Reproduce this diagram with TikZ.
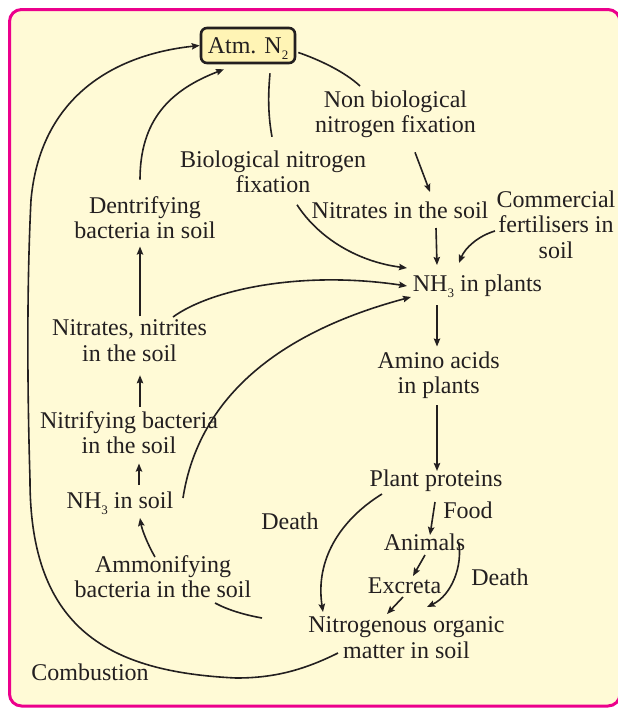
\documentclass[tikz,border=0pt]{standalone}
\usepackage{fontspec}
\setmainfont{Liberation Serif}
\usetikzlibrary{arrows.meta,calc}
\definecolor{ink}{HTML}{231F20}
\definecolor{framecol}{HTML}{EC008C}
\definecolor{cream}{HTML}{FFFAD6}
\definecolor{boxfill}{HTML}{FFF4B5}
\newcommand\lowsub[1]{\raisebox{-3pt}{\fontsize{6.5}{6.5}\selectfont #1}}
\begin{document}
\begin{tikzpicture}[x=0.5pt,y=-0.5pt,
  txt/.style={font=\fontsize{12}{12.9}\selectfont, text=ink, inner sep=0pt, align=center},
  conn/.style={draw=ink, line width=0.8pt},
  arr/.style={conn, -{Stealth[length=4pt,width=3.2pt,inset=0.6pt]}}]
\useasboundingbox (0,0) rectangle (617,708);
\draw[line width=1.5pt, draw=framecol, fill=cream, rounded corners=6pt] (9.5,9.5) rectangle (620,706);

% nodes
\node[txt, draw=ink, line width=1.3pt, fill=boxfill, rounded corners=3pt,
      minimum width=47pt, minimum height=17.5pt, text height=8.5pt, text depth=1pt] (atm) at (248,45.5) {Atm. N\lowsub{2}};
\node[txt] (nonbio) at (395.5,114.3) {Non biological\\nitrogen fixation};
\node[txt] (bio) at (273,171.8) {Biological nitrogen\\fixation};
\node[txt] (dentr) at (145,217.7) {Dentrifying\\bacteria in soil};
\node[txt, anchor=base] (nitsoil) at (400,218) {Nitrates in the soil};
\node[txt] (comm) at (556,224.6) {Commercial\\fertilisers in\\soil};
\node[txt, anchor=base] (nh3p) at (477.5,291) {NH\lowsub{3} in plants};
\node[txt] (nitnit) at (129.5,340.7) {Nitrates, nitrites\\in the soil};
\node[txt] (amino) at (438.6,375.3) {Amino acids\\in plants};
\node[txt] (nitrif) at (129,432.7) {Nitrifying bacteria\\in the soil};
\node[txt, anchor=base] (pprot) at (436,486) {Plant proteins};
\node[txt, anchor=base] (nh3s) at (120,508) {NH\lowsub{3} in soil};
\node[txt, anchor=base] (death1) at (290,529) {Death};
\node[txt, anchor=base] (food) at (468,518) {Food};
\node[txt, anchor=base] (animals) at (424.5,550) {Animals};
\node[txt] (ammon) at (163,576.7) {Ammonifying\\bacteria in the soil};
\node[txt, anchor=base] (excreta) at (404.5,593) {Excreta};
\node[txt, anchor=base] (death2) at (500,585) {Death};
\node[txt] (nitorg) at (406.5,637.7) {Nitrogenous organic\\matter in soil};
\node[txt, anchor=base] (comb) at (90,680) {Combustion};

% connectors
\draw[arr] ($(nitorg.center)+(-68.5,15.3)$) .. controls (300,672) and (270,678) .. (236,678)
  .. controls (110,672) and (30,630) .. (30,480)
  .. controls (27,380) and (27,280) .. (31,200)
  .. controls (40,100) and (110,55) .. (atm.west);
\draw[arr] ($(dentr.center)+(-5,-38)$) .. controls (140,120) and (170,90) .. ($(atm.south)+(-24,5)$);
\draw[conn] ($(atm.south)+(22,9)$) .. controls (268,95) and (268,115) .. ($(bio.center)+(-1,-35)$);
\draw[arr] ($(bio.center)+(24,33)$) .. controls (320,240) and (360,262) .. ($(nh3p.base)+(-70.5,-23)$);
\draw[conn] ($(atm.east)+(2,7)$) .. controls (320,60) and (345,72) .. ($(nonbio.center)+(-35.5,-28.3)$);
\draw[arr] ($(nonbio.center)+(19.5,38)$) -- ($(nitsoil.base)+(30,-26)$);
\draw[arr] ($(nitsoil.base)+(36,10)$) -- ($(nh3p.base)+(-40.5,-26)$);
\draw[arr] ($(comm.center)+(-61,6.4)$) .. controls (478,236) and (465,248) .. ($(nh3p.base)+(-18.5,-28)$);
\draw[arr] ($(nitnit.center)+(43.5,-23.7)$) .. controls (210,290) and (300,270) .. ($(nh3p.base)+(-70.5,-5)$);
\draw[arr] ($(nh3s.base)+(63,-10)$) .. controls (195,420) and (250,340) .. ($(nh3p.base)+(-66.5,6)$);
\draw[arr] ($(nitnit.north)+(10.5,-3)$) -- ($(dentr.south)+(-5,7)$);
\draw[arr] ($(nitrif.north)+(11,-4)$) -- ($(nitnit.south)+(10.5,13.2)$);
\draw[arr] ($(nh3s.base)+(19,-23)$) -- ($(nitrif.south)+(10,9)$);
\draw[arr] ($(ammon.center)+(-8,-19.7)$) .. controls (148,545) and (142,530) .. ($(nh3s.base)+(20,10)$);
\draw[conn] ($(nitorg.center)+(-144.5,-19.7)$) .. controls (245,615) and (228,610) .. ($(ammon.center)+(52,26.3)$);
\draw[arr] ($(nh3p.base)+(-40.5,14)$) -- ($(amino.north)+(-1.6,-4.6)$);
\draw[arr] ($(amino.south)+(-1.6,6)$) -- ($(pprot.base)+(1,-15)$);
\draw[arr] ($(pprot.base)+(-1,16)$) -- ($(animals.base)+(5.5,-15)$);
\draw[arr] ($(pprot.base)+(-54,8)$) .. controls (340,520) and (315,560) .. ($(nitorg.center)+(-83.5,-25.7)$);
\draw[arr] ($(animals.base)+(0.5,5)$) -- ($(excreta.base)+(8.5,-17)$);
\draw[arr] ($(animals.base)+(34,-8)$) .. controls (463,565) and (452,595) .. ($(nitorg.center)+(20.5,-30.7)$);
\draw[arr] ($(excreta.base)+(-1.5,4)$) -- ($(nitorg.center)+(-19.5,-23.7)$);
\end{tikzpicture}
\end{document}
